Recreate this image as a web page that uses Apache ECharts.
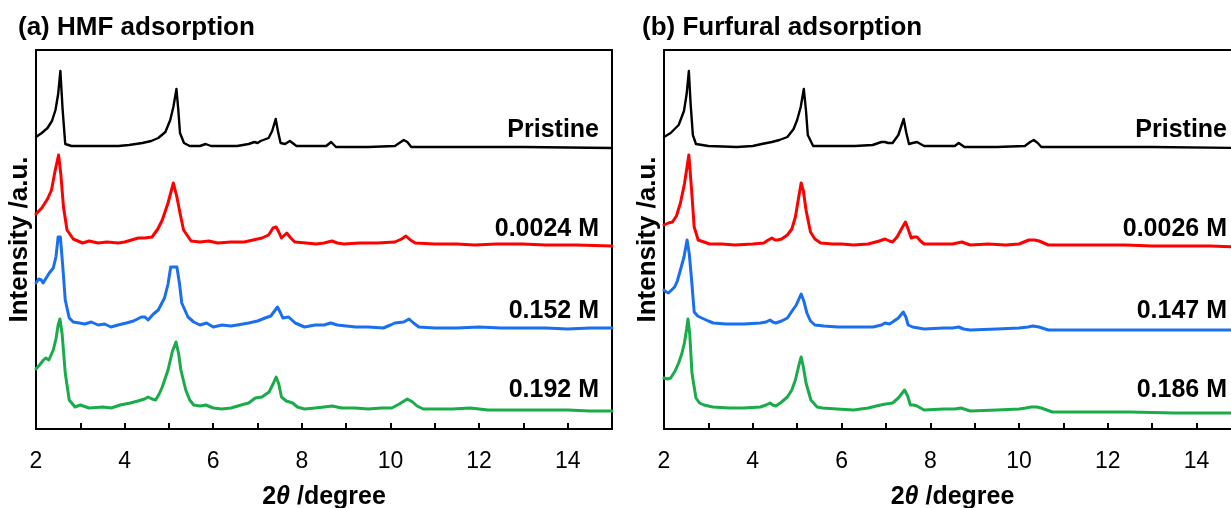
<!DOCTYPE html>
<html>
<head>
<meta charset="utf-8">
<script src="https://cdn.jsdelivr.net/npm/echarts@6/dist/echarts.min.js"></script>
<style>
html,body{margin:0;padding:0;background:#fff;}
#chart{width:1231px;height:508px;}
</style>
</head>
<body>
<div id="chart"></div>
<script>
// ---- data (2theta [degree], intensity [a.u., offset stacked]) ----
const panelTitles = ['(a) HMF adsorption', '(b) Furfural adsorption'];
const hmfLabels = ['Pristine', '0.0024 M', '0.152 M', '0.192 M'];
const furLabels = ['Pristine', '0.0026 M', '0.147 M', '0.186 M'];
const xTickValues = [2, 4, 6, 8, 10, 12, 14];
const seriesColors = ['#000000', '#ff0000', '#1a6ff0', '#1aab4b'];

const hmfPristine = [[2.0,292],[2.13,296],[2.26,301],[2.36,308],[2.44,319],[2.5,335],[2.55,358],[2.6,320],[2.66,285],[2.8,283],[3.2,283],[3.6,283],[3.86,283],[4.1,284],[4.4,286],[4.6,288],[4.76,291],[4.92,297],[5.03,309],[5.1,322],[5.17,340],[5.21,320],[5.25,296],[5.34,286],[5.47,283],[5.7,283],[5.83,285],[5.95,283],[6.54,283],[6.8,285],[6.93,287],[7.0,286],[7.07,288],[7.25,291],[7.33,298],[7.41,310],[7.46,298],[7.52,286],[7.62,285],[7.73,288],[7.88,283],[8.55,283],[8.66,287],[8.77,282],[9.5,282],[10.1,283],[10.2,286],[10.3,289],[10.38,287],[10.47,282],[11.5,282],[13,282],[15,281]];
const hmf0024 = [[2.0,215],[2.13,221],[2.26,230],[2.35,239],[2.43,258],[2.51,274],[2.56,255],[2.62,222],[2.7,199],[2.84,190],[3.05,186],[3.2,188],[3.4,186],[3.6,187],[3.86,186],[4.0,187],[4.31,191],[4.45,191],[4.62,192],[4.75,200],[4.85,209],[4.98,226],[5.1,246],[5.18,232],[5.25,216],[5.33,199],[5.5,188],[5.7,187],[5.9,188],[6.1,186],[6.4,187],[6.7,187],[6.9,189],[7.1,191],[7.25,194],[7.35,201],[7.42,202],[7.48,197],[7.54,191],[7.66,196],[7.75,191],[7.84,187],[8.1,186],[8.32,185],[8.5,186],[8.68,188],[8.8,186],[8.95,185],[9.3,186],[9.7,186],[10.1,187],[10.25,190],[10.35,193],[10.45,189],[10.56,186],[11.0,185],[11.5,185],[11.9,184],[12.4,185],[12.97,185],[13.5,184],[14.2,184],[15,183]];
const hmf152 = [[2.0,146],[2.06,150],[2.12,149],[2.16,146],[2.23,151],[2.3,156],[2.39,161],[2.45,172],[2.5,192],[2.55,192],[2.6,165],[2.66,129],[2.75,111],[2.84,107],[2.98,106],[3.1,105],[3.25,107],[3.4,104],[3.55,105],[3.69,102],[3.85,104],[4.04,106],[4.2,108],[4.38,112],[4.46,112],[4.53,109],[4.65,115],[4.76,119],[4.9,131],[4.98,145],[5.04,162],[5.18,162],[5.24,145],[5.29,126],[5.43,112],[5.56,107],[5.7,104],[5.85,106],[6.0,102],[6.2,104],[6.4,103],[6.54,104],[6.8,106],[7.0,108],[7.17,111],[7.3,113],[7.45,122],[7.52,116],[7.57,111],[7.7,112],[7.85,106],[8.06,102],[8.3,104],[8.5,104],[8.65,106],[8.8,104],[9.0,103],[9.22,102],[9.5,102],[9.84,101],[10.0,104],[10.1,106],[10.3,107],[10.42,110],[10.52,106],[10.64,102],[11.0,101],[11.5,101],[12.0,102],[12.5,101],[13.0,101],[13.5,101],[14.0,100],[14.5,101],[15,101]];
const hmf192 = [[2.0,60],[2.08,64],[2.17,69],[2.22,71],[2.26,70],[2.29,69],[2.35,75],[2.39,79],[2.45,90],[2.5,104],[2.54,110],[2.59,95],[2.66,56],[2.75,29],[2.88,22],[3.0,24],[3.2,21],[3.51,22],[3.7,21],[3.9,24],[4.13,26],[4.3,28],[4.45,30],[4.53,32],[4.62,30],[4.7,29],[4.78,35],[4.85,42],[4.98,59],[5.08,78],[5.16,87],[5.22,75],[5.27,59],[5.38,39],[5.47,29],[5.56,24],[5.7,23],[5.83,24],[6.0,21],[6.19,20],[6.4,21],[6.63,24],[6.8,26],[6.95,31],[7.1,32],[7.26,37],[7.35,45],[7.42,52],[7.48,45],[7.54,32],[7.65,28],[7.79,26],[7.9,22],[8.06,20],[8.3,21],[8.5,22],[8.68,23],[8.9,21],[9.2,21],[9.5,20],[9.8,21],[10.03,21],[10.2,25],[10.38,30],[10.5,27],[10.6,23],[10.74,20],[11.0,20],[11.4,20],[11.8,21],[12.2,19],[12.8,19],[13.4,19],[14.0,19],[14.5,18],[15,18]];

const furPristine = [[2.0,292],[2.15,296],[2.33,304],[2.45,318],[2.51,335],[2.56,358],[2.6,325],[2.65,294],[2.72,285],[3.0,283],[3.64,282],[4.0,283],[4.2,285],[4.43,287],[4.6,289],[4.78,292],[4.92,300],[5.0,309],[5.08,322],[5.15,340],[5.2,318],[5.24,294],[5.36,283],[5.6,283],[5.84,283],[6.3,283],[6.7,284],[6.9,287],[6.98,287],[7.05,286],[7.15,286],[7.28,294],[7.4,310],[7.46,296],[7.52,285],[7.6,286],[7.7,287],[7.86,283],[8.3,283],[8.55,283],[8.64,286],[8.77,282],[9.5,282],[10.13,283],[10.25,287],[10.33,289],[10.42,286],[10.5,282],[11.5,282],[13,282],[15,281]];
const fur0026 = [[2.0,204],[2.1,206],[2.19,207],[2.28,213],[2.37,226],[2.46,245],[2.56,274],[2.62,240],[2.68,202],[2.77,189],[3.03,185],[3.3,185],[3.6,184],[4.0,185],[4.25,186],[4.35,189],[4.43,191],[4.5,189],[4.56,189],[4.65,190],[4.78,194],[4.88,200],[4.96,212],[5.02,228],[5.09,246],[5.14,238],[5.2,219],[5.3,197],[5.4,190],[5.53,186],[5.8,185],[6.0,185],[6.27,184],[6.6,185],[6.85,188],[6.98,190],[7.08,188],[7.15,187],[7.25,192],[7.35,200],[7.44,207],[7.5,200],[7.57,191],[7.63,192],[7.7,192],[7.78,188],[7.86,185],[8.2,185],[8.5,185],[8.71,187],[8.9,184],[9.3,185],[9.7,184],[10.0,185],[10.22,189],[10.35,189],[10.45,188],[10.66,184],[11.2,184],[11.8,184],[12.4,184],[13,183],[13.6,183],[14.3,183],[15,182]];
const fur147 = [[2.0,139],[2.05,137],[2.1,136],[2.17,139],[2.24,142],[2.3,148],[2.37,159],[2.45,172],[2.52,189],[2.57,175],[2.62,150],[2.68,117],[2.76,113],[2.85,111],[3.0,108],[3.11,106],[3.4,105],[3.8,105],[4.17,106],[4.3,107],[4.39,109],[4.45,107],[4.52,106],[4.65,108],[4.78,111],[4.87,117],[4.98,124],[5.09,135],[5.15,128],[5.22,116],[5.3,108],[5.4,104],[5.6,103],[5.92,102],[6.3,102],[6.71,102],[6.9,104],[6.98,106],[7.08,105],[7.15,107],[7.28,111],[7.39,117],[7.45,112],[7.5,104],[7.6,102],[7.86,100],[8.3,101],[8.5,101],[8.64,102],[8.75,100],[8.9,99],[9.5,100],[10.0,101],[10.2,102],[10.31,103],[10.45,102],[10.66,99],[11.5,99],[12.5,99],[13.5,99],[15,99]];
const fur186 = [[2.0,51],[2.08,50],[2.15,51],[2.25,58],[2.33,66],[2.4,75],[2.46,86],[2.51,100],[2.54,110],[2.58,95],[2.63,56],[2.72,31],[2.8,26],[2.9,24],[3.1,22],[3.47,21],[3.8,21],[4.17,22],[4.3,24],[4.39,26],[4.45,24],[4.52,23],[4.65,27],[4.78,32],[4.88,39],[4.96,49],[5.04,64],[5.09,72],[5.14,62],[5.2,46],[5.31,29],[5.45,22],[5.57,21],[5.9,20],[6.27,19],[6.6,21],[6.88,24],[7.0,25],[7.15,26],[7.28,31],[7.42,39],[7.49,33],[7.55,24],[7.62,24],[7.7,23],[7.86,19],[8.3,20],[8.55,20],[8.69,21],[8.9,18],[9.5,19],[10.0,20],[10.15,21],[10.27,22],[10.4,22],[10.5,21],[10.75,17],[11.5,17],[12.5,17],[13.5,16],[15,16]];

const hmfSeries = [hmfPristine, hmf0024, hmf152, hmf192];
const furSeries = [furPristine, fur0026, fur147, fur186];

// ---- chart ----
const FONT = '"Liberation Sans", Arial, Helvetica, sans-serif';
const chart = echarts.init(document.getElementById('chart'), null, {renderer: 'canvas'});

const grids = [
  {left: 36, top: 50, width: 576, height: 379},
  {left: 664, top: 50, width: 577, height: 379}
];

function xAxisFor(i) {
  return {
    type: 'value', gridIndex: i, min: 2, max: 15, interval: 1,
    axisLine: {show: true, onZero: false, lineStyle: {color: '#000', width: 2}},
    axisTick: {show: true, inside: true, length: 6, lineStyle: {color: '#000', width: 2}},
    axisLabel: {
      color: '#000', fontSize: 23, fontFamily: FONT, margin: 21,
      formatter: v => (xTickValues.indexOf(v) >= 0 ? String(v) : '')
    },
    splitLine: {show: false},
    name: '{b|2}{i|θ}{b| /degree}',
    nameLocation: 'middle', nameGap: 56,
    nameTextStyle: {
      rich: {
        b: {fontSize: 25, fontWeight: 'bold', fontFamily: FONT, color: '#000'},
        i: {fontSize: 25, fontWeight: 'bold', fontStyle: 'italic', fontFamily: FONT, color: '#000'}
      }
    }
  };
}
function yAxisFor(i) {
  return {
    type: 'value', gridIndex: i, min: 0, max: 379,
    axisLine: {show: true, lineStyle: {color: '#000', width: 2}},
    axisTick: {show: false}, axisLabel: {show: false}, splitLine: {show: false},
    name: 'Intensity /a.u.', nameLocation: 'middle', nameGap: 3,
    nameTextStyle: {fontSize: 26, fontWeight: 'bold', fontFamily: FONT, color: '#000'}
  };
}

const series = [];
[hmfSeries, furSeries].forEach((group, gi) => {
  group.forEach((d, si) => {
    series.push({
      type: 'line', xAxisIndex: gi, yAxisIndex: gi, data: d,
      symbol: 'none', smooth: false, clip: true, animation: false,
      lineStyle: {color: seriesColors[si], width: si === 0 ? 2.4 : 3, join: 'round', cap: 'round'}
    });
  });
});

// label placement (pixel layout only)
const labelY = [130, 229, 311, 390];
const graphics = [];
[[hmfLabels, 599], [furLabels, 1227]].forEach(([labels, xr]) => {
  labels.forEach((t, k) => {
    graphics.push({type: 'text', x: xr, y: labelY[k], style: {
      text: t, fill: '#000', font: 'bold 25px ' + FONT, textAlign: 'right', textVerticalAlign: 'middle'}});
  });
});
panelTitles.forEach((t, k) => {
  graphics.push({type: 'text', x: k === 0 ? 18 : 642, y: 28, style: {
    text: t, fill: '#000', font: 'bold 26px ' + FONT, textAlign: 'left', textVerticalAlign: 'middle'}});
});

chart.setOption({
  backgroundColor: '#fff',
  animation: false,
  grid: grids.map(g => Object.assign({show: true, borderColor: '#000', borderWidth: 2, backgroundColor: 'transparent', containLabel: false, outerBoundsMode: 'none'}, g)),
  xAxis: [xAxisFor(0), xAxisFor(1)],
  yAxis: [yAxisFor(0), yAxisFor(1)],
  series: series,
  graphic: graphics
});
</script>
</body>
</html>
